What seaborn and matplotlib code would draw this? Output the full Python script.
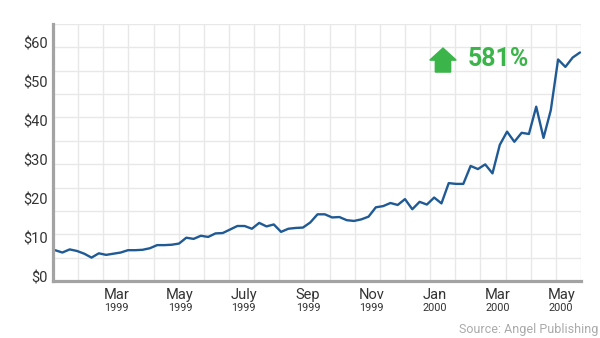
import numpy as np
import pandas as pd
import matplotlib
matplotlib.use("Agg")
import matplotlib.pyplot as plt
import matplotlib.dates as mdates
import matplotlib.patches as mpatches
import matplotlib.transforms as mtransforms
import seaborn as sns

# Weekly closing price, Jan 1999 - May 2000 (USD)
prices = [6.9, 6.3, 7.1, 6.7, 6.0, 5.0, 6.1, 5.7, 6.0, 6.3,
          6.9, 6.9, 7.0, 7.4, 8.2, 8.2, 8.3, 8.6, 10.1, 9.8,
          10.6, 10.3, 11.2, 11.3, 12.2, 13.1, 13.1, 12.4, 13.9, 13.0,
          13.5, 11.6, 12.4, 12.6, 12.7, 14.0, 16.1, 16.1, 15.3, 15.4,
          14.6, 14.4, 14.8, 15.5, 17.9, 18.2, 19.0, 18.5, 20.0, 17.4,
          19.3, 18.6, 20.4, 18.9, 24.1, 23.9, 23.9, 28.5, 27.7, 28.9,
          26.6, 33.9, 37.3, 34.7, 37.0, 36.7, 43.7, 35.7, 42.8, 55.8,
          53.9, 56.3, 57.6]
start_date = "1999-01-01"

tick_dates = ["1999-03-01", "1999-05-01", "1999-07-01", "1999-09-01",
              "1999-11-01", "2000-01-01", "2000-03-01", "2000-05-01"]
month_labels = ["Mar", "May", "July", "Sep", "Nov", "Jan", "Mar", "May"]
year_labels = ["1999", "1999", "1999", "1999", "1999", "2000", "2000", "2000"]

y_ticks = [0, 10, 20, 30, 40, 50, 60]
y_labels = ["$0", "$10", "$20", "$30", "$40", "$50", "$60"]

gain_label = "581%"
source_label = "Source: Angel Publishing"

LINE = "#1f5a94"
GREEN = "#3bb54a"
TEXT = "#333333"
SPINE = "#a3a3a3"
GRID = "#e8e8e8"

df = pd.DataFrame({
    "date": pd.date_range(start_date, periods=len(prices), freq="7D"),
    "price": prices,
})

sns.set_theme(style="white")
plt.rcParams["font.family"] = ["Roboto", "DejaVu Sans"]

fig = plt.figure(figsize=(6.0, 3.38), dpi=100)
ax = fig.add_axes([53 / 600, 57 / 338, 528 / 600, 257 / 338])

sns.lineplot(data=df, x="date", y="price", color=LINE, linewidth=1.7,
             ax=ax, zorder=3)

x0 = pd.Timestamp("1998-12-30")
x1 = pd.Timestamp("2000-05-20")
ax.set_xlim(x0, x1)
ax.set_ylim(-1.0, 64.9)

# decorative background lattice, evenly spaced across the panel
xn0, xn1 = mdates.date2num(x0), mdates.date2num(x1)
ax.set_xticks(np.linspace(xn0, xn1, 22), minor=True)
ax.set_yticks(np.linspace(-1.0, 64.9, 12), minor=True)
ax.grid(which="minor", color=GRID, linewidth=1.0, zorder=0)
ax.grid(which="major", visible=False)
ax.set_axisbelow(True)

ax.set_xticks(pd.to_datetime(tick_dates))
ax.set_xticklabels(month_labels)
ax.set_yticks(y_ticks)
ax.set_yticklabels(y_labels)
ax.tick_params(axis="both", which="both", length=0)
ax.tick_params(axis="y", labelsize=10.5, labelcolor=TEXT, pad=4)
ax.tick_params(axis="x", labelsize=10.5, labelcolor=TEXT, pad=5)
ax.set_xlabel("")
ax.set_ylabel("")

for side in ("top", "right"):
    ax.spines[side].set_visible(False)
for side in ("left", "bottom"):
    ax.spines[side].set_color(SPINE)
    ax.spines[side].set_linewidth(2.3)
    ax.spines[side].set_zorder(4)

# year line under each month label
blend = mtransforms.blended_transform_factory(ax.transData, ax.transAxes)
for d, yr in zip(pd.to_datetime(tick_dates), year_labels):
    ax.text(mdates.date2num(d), -0.105, yr, transform=blend, ha="center",
            va="center", fontsize=7.8, color=TEXT)

# gain badge
arrow = mpatches.FancyArrow(0.7386, 0.813, 0, 0.0934, width=0.029,
                            head_width=0.05, head_length=0.047,
                            length_includes_head=True, color=GREEN,
                            transform=ax.transAxes, zorder=5)
ax.add_patch(arrow)
ax.text(0.786, 0.862, gain_label, transform=ax.transAxes, ha="left",
        va="center", fontsize=18, fontweight="bold", color=GREEN, zorder=5)

fig.text(0.998, 0.024, source_label, ha="right", va="center",
         fontsize=9, color="#aaaaaa")

fig.savefig("out.png", dpi=100)
